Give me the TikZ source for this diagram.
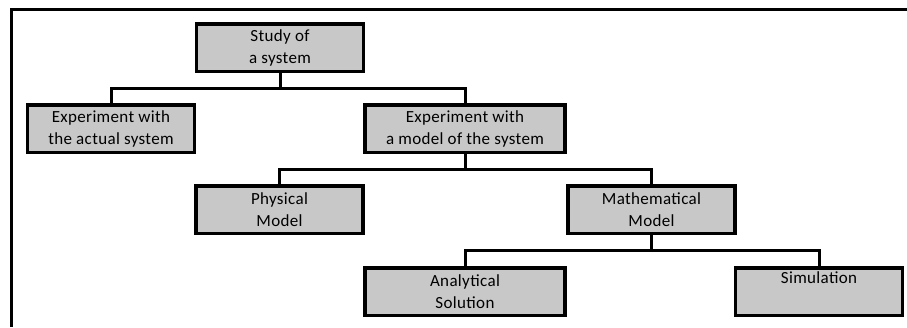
\documentclass[tikz,border=0pt]{standalone}
\usepackage{fontspec}
\setmainfont[LetterSpace=2]{Carlito}
\usepackage{xcolor}
\usepackage{tikz}
\usetikzlibrary{positioning}
\definecolor{boxgray}{RGB}{200, 200, 200}

\begin{document}
\begin{tikzpicture}[
    x=1pt, y=-1pt,
    box/.style={draw=black, line width=3.5pt, fill=boxgray, minimum width=167pt, minimum height=47.5pt, align=center, inner sep=0pt, font=\fontsize{17}{22}\selectfont},
    widebox/.style={box, minimum width=200pt},
    link/.style={line width=3pt, black}
]
\useasboundingbox (0,0) rectangle (907,327);

% outer frame (top and left edge only)
\coordinate (frameTR) at (907,9);
\coordinate (frameTL) at (11,9);
\coordinate (frameBL) at (11,327);
\draw[link] (frameTR) -- (frameTL) -- (frameBL);

\node[box] (study) at (280,47.5) {Study of\\a system};
\node[box, below=30pt of study, xshift=-169pt] (actual) {Experiment with\\the actual system};
\node[widebox, below=30pt of study, xshift=185pt] (model) {Experiment with\\a model of the system};
\node[box, below=30pt of model, xshift=-185.5pt] (physical) {Physical\\Model};
\node[box, below=30pt of model, xshift=186.5pt] (math) {Mathematical\\Model};
\node[widebox, below=31pt of math, xshift=-186.5pt] (analytical) {Analytical\\Solution};
\node[box, below=31pt of math, xshift=167.5pt] (simulation) {Simulation\\\strut};

\draw[link] (study.south) -- ++(0,15) -| (actual.north);
\draw[link] (study.south) -- ++(0,15) -| (model.north);
\draw[link] (model.south) -- ++(0,15) -| (physical.north);
\draw[link] (model.south) -- ++(0,15) -| (math.north);
\draw[link] (math.south) -- ++(0,15.5) -| (analytical.north);
\draw[link] (math.south) -- ++(0,15.5) -| (simulation.north);

\end{tikzpicture}
\end{document}
